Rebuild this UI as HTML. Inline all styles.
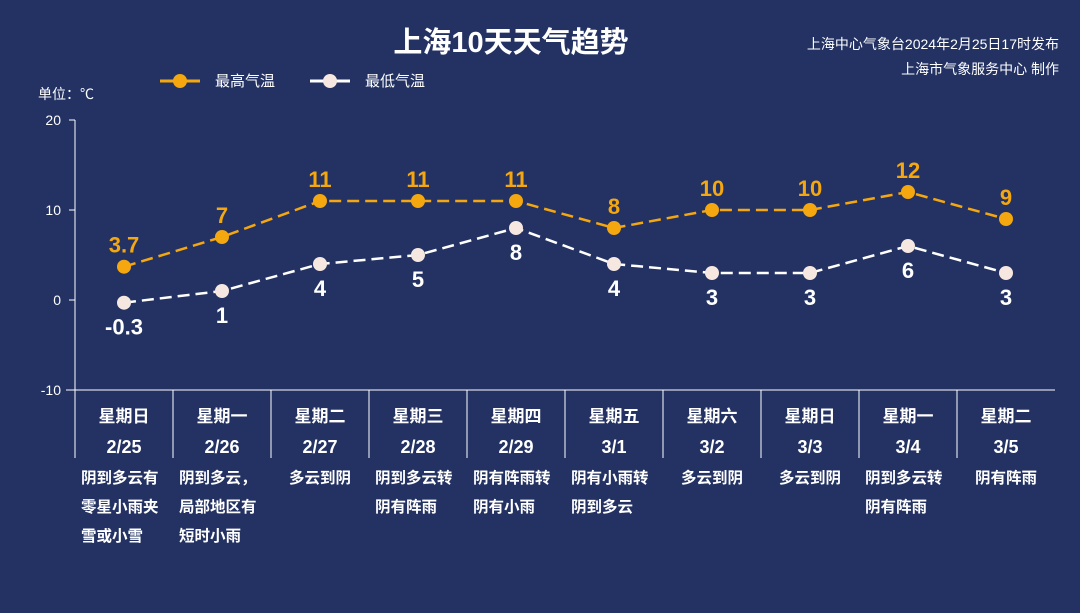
<!DOCTYPE html>
<html><head><meta charset="utf-8">
<style>
html,body{margin:0;padding:0;background:#233263;}
svg{display:block;font-family:"Liberation Sans","Noto Sans CJK SC",sans-serif;}
</style></head>
<body>
<svg id="c" width="1080" height="613" viewBox="0 0 1080 613">
<rect width="1080" height="613" fill="#233263"/>
<text x="511" y="52" text-anchor="middle" font-size="29" font-weight="bold" fill="#fff">上海10天天气趋势</text>
<text x="1059" y="49" text-anchor="end" font-size="14" fill="#fff">上海中心气象台2024年2月25日17时发布</text>
<text x="1059" y="74" text-anchor="end" font-size="14" fill="#fff">上海市气象服务中心 制作</text>
<text x="38" y="99" font-size="14" fill="#fff">单位：℃</text>
<g>
<line x1="160" y1="81" x2="200" y2="81" stroke="#f5a70f" stroke-width="3"/>
<circle cx="180" cy="81" r="7" fill="#f5a70f"/>
<text x="215" y="86" font-size="15" fill="#fff">最高气温</text>
</g>
<g>
<line x1="310" y1="81" x2="350" y2="81" stroke="#fff" stroke-width="3"/>
<circle cx="330" cy="81" r="7" fill="#f6e8e0"/>
<text x="365" y="86" font-size="15" fill="#fff">最低气温</text>
</g>
<g id="plot"></g>
</svg>
<script>
const weekdays=["星期日","星期一","星期二","星期三","星期四","星期五","星期六","星期日","星期一","星期二"];
const dates=["2/25","2/26","2/27","2/28","2/29","3/1","3/2","3/3","3/4","3/5"];
const highs=[3.7,7,11,11,11,8,10,10,12,9];
const lows=[-0.3,1,4,5,8,4,3,3,6,3];
const yTicks=[20,10,0,-10];
const weather=[["阴到多云有","零星小雨夹","雪或小雪"],["阴到多云，","局部地区有","短时小雨"],["多云到阴"],["阴到多云转","阴有阵雨"],["阴有阵雨转","阴有小雨"],["阴有小雨转","阴到多云"],["多云到阴"],["多云到阴"],["阴到多云转","阴有阵雨"],["阴有阵雨"]];
const NS="http://www.w3.org/2000/svg";
const g=document.getElementById('plot');
const x0=75,colW=98;
const xPos=i=>x0+colW*(i+0.5);
const yPos=v=>300-9*v;
function mk(t,a,txt){const e=document.createElementNS(NS,t);for(const k in a)e.setAttribute(k,a[k]);if(txt!==undefined)e.textContent=txt;g.appendChild(e);return e;}
// axes
let e=mk('line',{x1:75,y1:120,x2:75,y2:458,stroke:'#fff','stroke-width':1});


e=mk('line',{x1:66,y1:390,x2:1055,y2:390,stroke:'#fff','stroke-width':1});


yTicks.forEach(t=>{
 let l=mk('line',{x1:69,y1:yPos(t),x2:75,y2:yPos(t),stroke:'#fff'});
 
 
 let tx=mk('text',{x:61,y:yPos(t)+5,'text-anchor':'end','font-size':14,fill:'#fff'},String(t));
 
 
});
dates.forEach((d,i)=>{
 const cx=xPos(i);
 if(i>0){let l=mk('line',{x1:x0+colW*i,y1:390,x2:x0+colW*i,y2:458,stroke:'#fff'});
 
 }
 let w=mk('text',{x:cx,y:422,'text-anchor':'middle','font-size':17,'font-weight':'bold',fill:'#fff'},weekdays[i]);
 
 
 let dt=mk('text',{x:cx,y:453,'text-anchor':'middle','font-size':18,'font-weight':'bold',fill:'#fff'},d);
 
 
 weather[i].forEach((s,j)=>{
  let t=mk('text',{x:x0+colW*i+6,y:483+j*29,'font-size':15.5,'font-weight':'bold',fill:'#fff'},s);
  if(weather[i].length===1){t.setAttribute('x',cx);t.setAttribute('text-anchor','middle');}
  
  
 });
});
function series(vals,color,dot,name,above){
 const pts=vals.map((v,i)=>xPos(i)+','+yPos(v)).join(' ');
 let p=mk('polyline',{points:pts,fill:'none',stroke:color,'stroke-width':2.5,'stroke-dasharray':'12,6'});
 
 
 vals.forEach((v,i)=>{
  let c=mk('circle',{cx:xPos(i),cy:yPos(v),r:7,fill:dot});
  
  
  let t=mk('text',{x:xPos(i),y:above?yPos(v)-14:yPos(v)+32,'text-anchor':'middle','font-size':22,'font-weight':'bold',fill:color},String(v));
  
  
 });
}
series(highs,'#f5a70f','#f5a70f','high-temp',true);
series(lows,'#ffffff','#f6e8e0','low-temp',false);
</script>
</body></html>
